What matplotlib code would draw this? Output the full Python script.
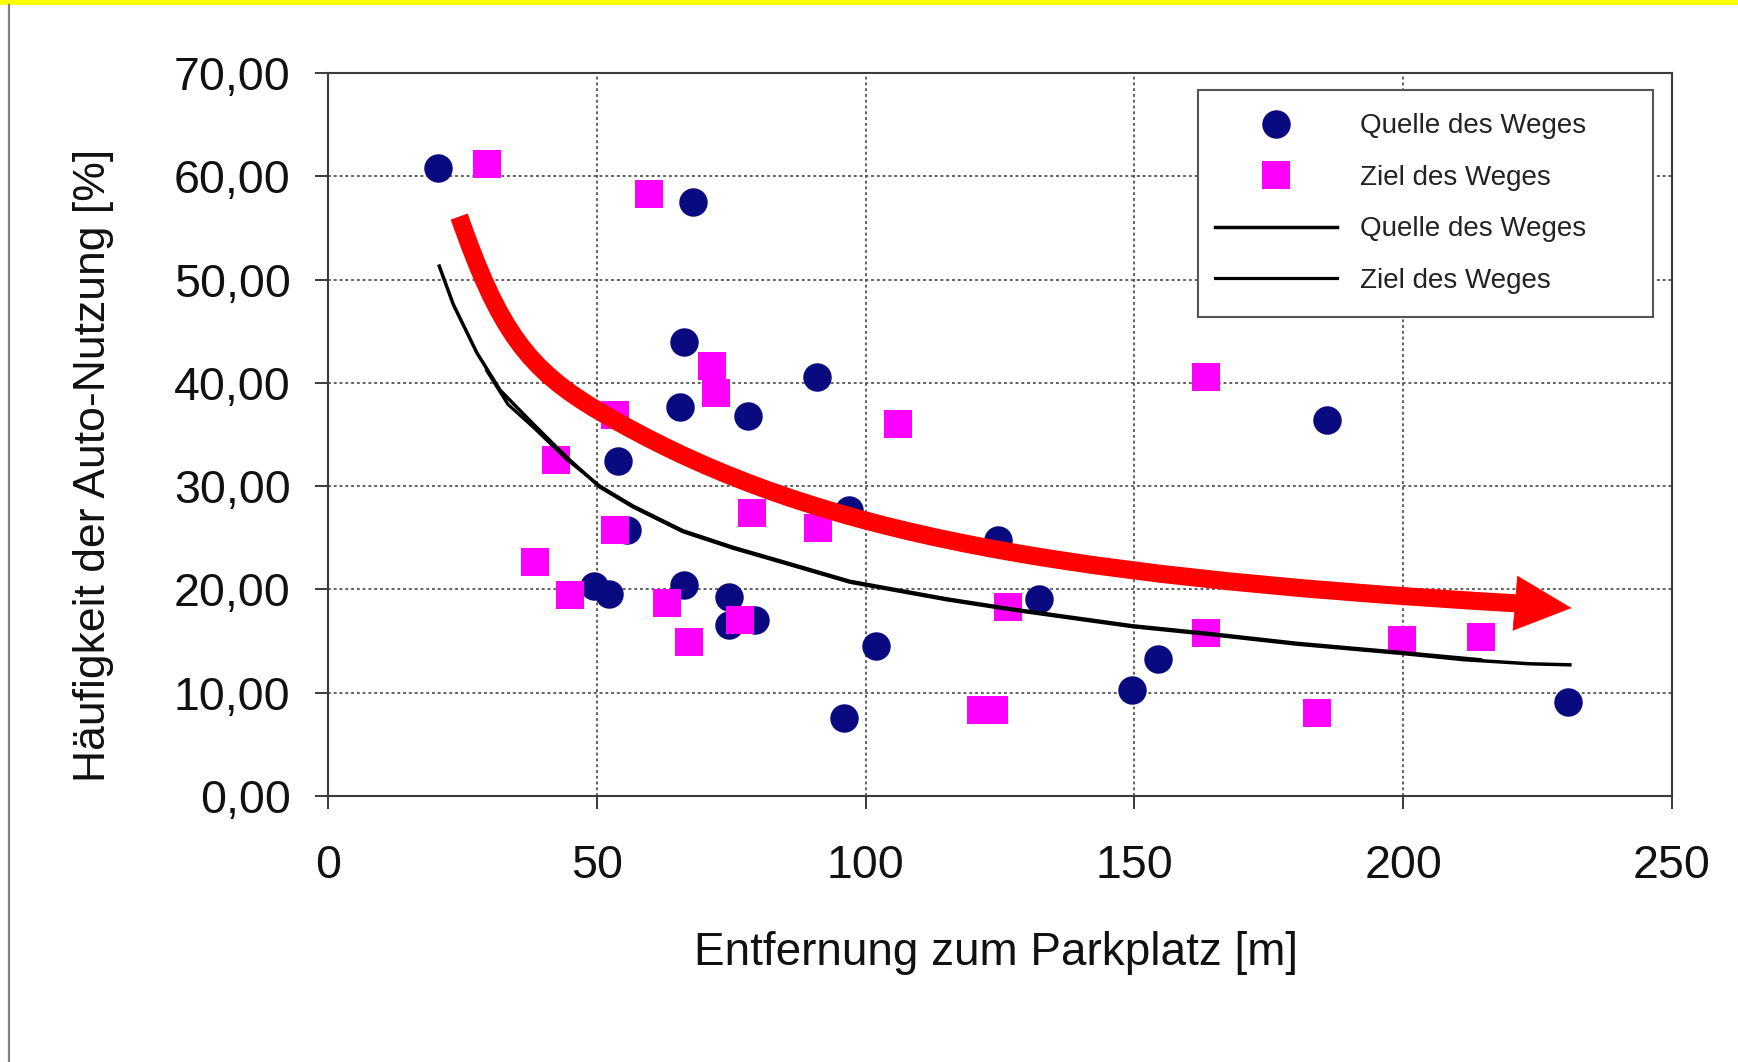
import matplotlib
matplotlib.use("Agg")
import matplotlib.pyplot as plt
from matplotlib.lines import Line2D
from matplotlib.patches import Rectangle, FancyArrowPatch, PathPatch
from matplotlib.path import Path

# ---------------- data ----------------
quelle_x = [20.5, 67.9, 66.3, 91.0, 65.5, 78.1, 54.0, 185.8, 97.0, 55.6, 124.7, 49.4,
            52.3, 66.3, 74.6, 74.6, 79.4, 132.3, 101.9, 96.0, 154.4, 149.5, 230.7]
quelle_y = [60.8, 57.5, 44.0, 40.6, 37.7, 36.8, 32.4, 36.4, 27.7, 25.75, 24.8, 20.3,
            19.6, 20.4, 19.3, 16.6, 17.0, 19.1, 14.5, 7.55, 13.3, 10.3, 9.1]

ziel_x = [29.5, 59.8, 71.4, 72.2, 53.3, 163.4, 106.0, 42.5, 78.8, 53.4, 91.2, 38.5,
          45.0, 63.0, 67.2, 76.6, 126.5, 121.4, 123.9, 163.4, 184.0, 199.7, 214.4]
ziel_y = [61.2, 58.3, 41.6, 39.0, 36.9, 40.6, 36.0, 32.5, 27.4, 25.75, 25.9, 22.7,
          19.5, 18.65, 14.9, 17.0, 18.3, 8.3, 8.3, 15.8, 8.0, 15.1, 15.4]

trend_quelle_x = [20.7, 23.3, 27.7, 32.0, 38.2, 44.4, 50.6, 56.7, 66.0, 75.3,
                  84.6, 97.1, 115.1, 127.5, 149.6, 164.7, 180.2, 199.8, 211.2, 223.6, 231.0]
trend_quelle_y = [51.3, 47.6, 42.9, 39.3, 36.0, 32.8, 29.9, 28.0, 25.6, 24.0,
                  22.6, 20.7, 19.0, 18.0, 16.4, 15.6, 14.7, 13.8, 13.2, 12.8, 12.7]

trend_ziel_x = [29.5, 33.5, 38.2, 44.4, 50.6, 56.7, 66.0, 75.3, 84.6, 97.1,
                115.1, 127.5, 149.6, 164.7, 180.2, 199.8, 214.4]
trend_ziel_y = [41.2, 37.9, 35.7, 32.6, 30.0, 28.1, 25.7, 24.1, 22.7, 20.8,
                19.1, 18.1, 16.5, 15.7, 14.8, 13.9, 13.2]

# red annotation arrow: two cubic Bezier segments (data coordinates)
arrow_path = [(24.4, 56.1), (31.83, 45.09), (37.11, 41.31), (50.6, 37.2),
              (87.2, 26.06), (129.8, 21.41), (221.1, 18.65)]
arrow_tip = (231.3, 18.2)

x_ticks = [0, 50, 100, 150, 200, 250]
x_ticklabels = ["0", "50", "100", "150", "200", "250"]
y_ticks = [0, 10, 20, 30, 40, 50, 60, 70]
y_ticklabels = ["0,00", "10,00", "20,00", "30,00", "40,00", "50,00", "60,00", "70,00"]

labels = ["Quelle des Weges", "Ziel des Weges", "Quelle des Weges", "Ziel des Weges"]
xlabel = "Entfernung zum Parkplatz [m]"
ylabel = "Häufigkeit der Auto-Nutzung [%]"

# ---------------- figure ----------------
plt.rcParams["font.family"] = ["Liberation Sans", "DejaVu Sans"]
W, H = 1738, 1062
fig = plt.figure(figsize=(W / 100, H / 100), dpi=100, facecolor="white")
ax = fig.add_axes([328 / W, 1 - 796 / H, (1672 - 328) / W, (796 - 73) / H])

# decorations of the slide: yellow band on top, grey line on the left
fig.patches.append(Rectangle((0, 1 - 5 / H), 1, 5 / H, transform=fig.transFigure,
                             facecolor="#FFFF00", edgecolor="none", zorder=0))
fig.add_artist(Line2D([9 / W, 9 / W], [0, 1 - 5 / H], transform=fig.transFigure,
                      color="#808080", lw=1.6))

navy = "#0A0A80"
magenta = "#FF00FF"

h1, = ax.plot(quelle_x, quelle_y, ls="none", marker="o", ms=20.5, color=navy,
              mec=navy, mew=0, zorder=3)
h2, = ax.plot(ziel_x, ziel_y, ls="none", marker="s", ms=20.5, color=magenta,
              mec=magenta, mew=0, zorder=3.1)
h3, = ax.plot(trend_quelle_x, trend_quelle_y, color="black", lw=2.5, zorder=3.5,
              solid_joinstyle="round")
h4, = ax.plot(trend_ziel_x, trend_ziel_y, color="black", lw=2.3, zorder=3.5,
              solid_joinstyle="round")

# red arrow
codes = [Path.MOVETO, Path.CURVE4, Path.CURVE4, Path.CURVE4,
         Path.CURVE4, Path.CURVE4, Path.CURVE4]
shaft = PathPatch(Path(arrow_path, codes), facecolor="none", edgecolor="#FF0000",
                  lw=13, capstyle="butt", zorder=4)
ax.add_patch(shaft)
head = FancyArrowPatch(arrow_path[-1], arrow_tip,
                       arrowstyle="-|>,head_length=40,head_width=19.5",
                       mutation_scale=1, color="#FF0000", lw=0.5,
                       shrinkA=0, shrinkB=0, zorder=4)
ax.add_patch(head)

ax.set_xlim(0, 250)
ax.set_ylim(0, 70)
ax.set_xticks(x_ticks)
ax.set_xticklabels(x_ticklabels)
ax.set_yticks(y_ticks)
ax.set_yticklabels(y_ticklabels)

ax.grid(True, color="#555555", lw=1.3, ls=(0, (1.6, 1.6)), zorder=1)
ax.set_axisbelow(True)
for s in ax.spines.values():
    s.set_color("#3a3a3a")
    s.set_linewidth(1.5)

ax.tick_params(axis="y", length=9.4, width=1.4, color="#3a3a3a", pad=17.6,
               labelsize=33.5, labelcolor="#111111")
ax.tick_params(axis="x", length=9.5, width=1.4, color="#3a3a3a", pad=24.8,
               labelsize=33.5, labelcolor="#111111")

ax.set_xlabel(xlabel, fontsize=33, color="#111111")
ax.xaxis.set_label_coords(0.497, -0.1872)
ax.set_ylabel(ylabel, fontsize=32, color="#111111")
ax.yaxis.set_label_coords(-0.1595, 0.457)

# legend (frame drawn as a rectangle to match the original box)
ax.add_patch(Rectangle((0.6473, 0.6625), 0.9859 - 0.6473, 0.9765 - 0.6625,
                       transform=ax.transAxes, facecolor="white",
                       edgecolor="#555555", lw=1.5, zorder=5))
leg = ax.legend([h1, h2, h3, h4], labels, loc="upper left",
                bbox_to_anchor=(0.6473, 0.9674), frameon=False, fontsize=20,
                handlelength=4.4, handletextpad=0.82, borderpad=0.6,
                borderaxespad=0, labelspacing=0.92, numpoints=1)
leg.set_zorder(6)
for t in leg.get_texts():
    t.set_color("#222222")

fig.savefig("out.png", dpi=100, facecolor="white")
